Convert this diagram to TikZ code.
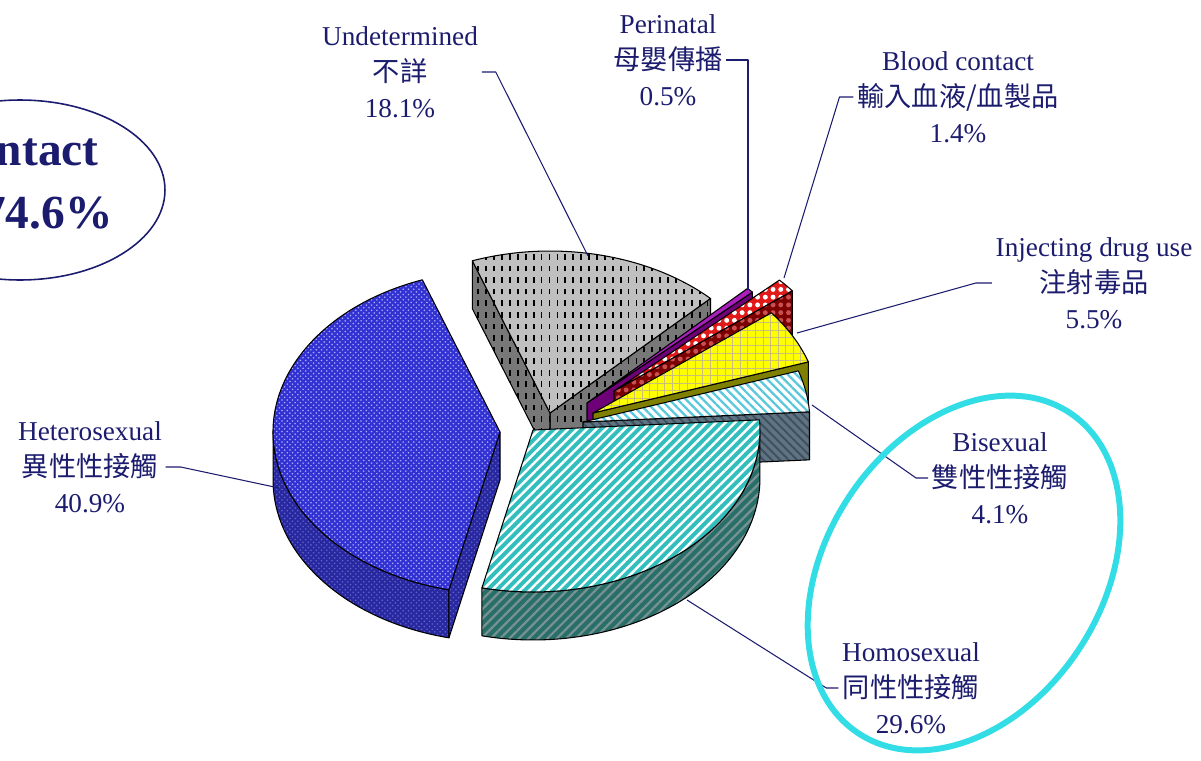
\documentclass[tikz,border=0pt]{standalone}
\usepackage{fontspec}
\setmainfont{Liberation Serif}
\newfontfamily\cjk{Noto Sans CJK TC}
\usetikzlibrary{patterns,patterns.meta}
\definecolor{navy}{RGB}{28,28,110}
\definecolor{ringc}{RGB}{51,221,230}
\definecolor{undetc}{RGB}{192,192,192}
\definecolor{undetsc}{RGB}{120,120,120}
\definecolor{peric}{RGB}{170,30,190}
\definecolor{perisc}{RGB}{110,0,120}
\definecolor{bloodc}{RGB}{225,25,25}
\definecolor{bloodsc}{RGB}{125,0,0}
\definecolor{blooddot}{RGB}{200,80,80}
\definecolor{iduc}{RGB}{255,255,0}
\definecolor{idugrid}{RGB}{200,190,120}
\definecolor{idusc}{RGB}{128,128,0}
\definecolor{bic}{RGB}{90,200,220}
\definecolor{bisc}{RGB}{95,115,130}
\definecolor{bistripe}{RGB}{60,80,95}
\definecolor{homoc}{RGB}{51,190,190}
\definecolor{homosc}{RGB}{40,110,105}
\definecolor{homostripe}{RGB}{120,145,145}
\definecolor{heteroc}{RGB}{50,50,210}
\definecolor{heterodot}{RGB}{170,170,255}
\definecolor{heterosc}{RGB}{40,40,160}
\definecolor{heterosdot}{RGB}{100,100,200}
\pgfdeclarepatternformonly{vdashes}{\pgfqpoint{-1pt}{-1pt}}{\pgfqpoint{5.5pt}{7.6pt}}{\pgfqpoint{4.5pt}{6.6pt}}{%
  \pgfsetlinewidth{1pt}%
  \pgfpathmoveto{\pgfqpoint{2.25pt}{1.6pt}}%
  \pgfpathlineto{\pgfqpoint{2.25pt}{4.8pt}}%
  \pgfusepath{stroke}}
\begin{document}
\begin{tikzpicture}[x=0.02cm, y=0.02cm, line join=round,
  rim/.style={x radius=4.54cm, y radius=3.24cm},
  slice edge/.style={draw=black, line width=0.6pt},
  undet top/.style={slice edge, preaction={fill=undetc}, pattern=vdashes, pattern color=black},
  undet side/.style={slice edge, preaction={fill=undetsc}, pattern=vdashes, pattern color=black},
  peri top/.style={slice edge, fill=peric},
  peri side/.style={slice edge, fill=perisc},
  blood top/.style={slice edge, preaction={fill=bloodc}, pattern={Dots[radius=1.4pt,distance=4.4pt]}, pattern color=white},
  blood side/.style={slice edge, preaction={fill=bloodsc}, pattern={Dots[radius=1.4pt,distance=4.4pt]}, pattern color=blooddot},
  idu top/.style={slice edge, preaction={fill=iduc}, pattern={Hatch[angle=0,distance=4.3pt,line width=0.6pt]}, pattern color=idugrid},
  idu side/.style={slice edge, fill=idusc},
  bi top/.style={slice edge, preaction={fill=white}, pattern={Lines[angle=-45,distance=3.4pt,line width=1.3pt]}, pattern color=bic},
  bi side/.style={slice edge, preaction={fill=bisc}, pattern={Lines[angle=-45,distance=3.4pt,line width=1.1pt]}, pattern color=bistripe},
  homo top/.style={slice edge, preaction={fill=homoc}, pattern={Lines[angle=45,distance=3.8pt,line width=1.4pt]}, pattern color=white},
  homo side/.style={slice edge, preaction={fill=homosc}, pattern={Lines[angle=45,distance=3.8pt,line width=1.3pt]}, pattern color=homostripe},
  hetero top/.style={slice edge, preaction={fill=heteroc}, pattern=crosshatch dots, pattern color=heterodot},
  hetero side/.style={slice edge, preaction={fill=heterosc}, pattern=crosshatch dots, pattern color=heterosdot},
  lbl/.style={text=navy, align=center, inner sep=2pt, font=\fontsize{15.5}{20.5}\selectfont},
  leader/.style={draw=navy, line width=0.6pt}]

\clip (0,0) rectangle (1201,-761);

% exploded pie, back slices first
\begin{scope}[shift={(550,-413)}] % undetermined
  \path[undet side] (0,0) -- (45:4.54cm and 3.24cm) -- ++(0,-48) -- (0,-48) -- cycle;
  \path[undet side] (0,0) -- (110:4.54cm and 3.24cm) -- ++(0,-48) -- (0,-48) -- cycle;
  \path[undet top] (0,0) -- (45:4.54cm and 3.24cm) arc[rim, start angle=45, end angle=110] -- cycle;
\end{scope}
\begin{scope}[shift={(587,-403)}] % perinatal
  \path[peri side] (0,0) -- (43.2:4.54cm and 3.24cm) -- ++(0,-48) -- (0,-48) -- cycle;
  \path[peri top] (0,0) -- (43.2:4.54cm and 3.24cm) arc[rim, start angle=43.2, end angle=45] -- cycle;
\end{scope}
\begin{scope}[shift={(614,-391)}] % blood
  \path[blood side] (0,0) -- (38.2:4.54cm and 3.24cm) -- ++(0,-48) -- (0,-48) -- cycle;
  \path[blood top] (0,0) -- (38.2:4.54cm and 3.24cm) arc[rim, start angle=38.2, end angle=43.2] -- cycle;
\end{scope}
\begin{scope}[shift={(593,-413)}] % injecting
  \path[idu side] (0,0) -- (18.4:4.54cm and 3.24cm) -- ++(0,-48) -- (0,-48) -- cycle;
  \path[idu top] (0,0) -- (18.4:4.54cm and 3.24cm) arc[rim, start angle=18.4, end angle=38.2] -- cycle;
\end{scope}
\begin{scope}[shift={(583,-422)}] % bisexual
  \path[bi side] (0,0) -- (3.6:4.54cm and 3.24cm) -- ++(0,-48) -- (0,-48) -- cycle;
  \path[bi top] (0,0) -- (3.6:4.54cm and 3.24cm) arc[rim, start angle=3.6, end angle=18.4] -- cycle;
\end{scope}
\begin{scope}[shift={(500,-432)}] % heterosexual
  \path[hetero side] (180:4.54cm and 3.24cm) arc[rim, start angle=180, end angle=257] -- ++(0,-48) arc[rim, start angle=257, end angle=180] -- cycle;
  \path[hetero side] (0,0) -- (257:4.54cm and 3.24cm) -- ++(0,-48) -- (0,-48) -- cycle;
  \path[hetero top] (0,0) -- (110:4.54cm and 3.24cm) arc[rim, start angle=110, end angle=257] -- cycle;
\end{scope}
\begin{scope}[shift={(533,-430)}] % homosexual
  \path[homo side] (257:4.54cm and 3.24cm) arc[rim, start angle=257, end angle=360] -- ++(0,-48) arc[rim, start angle=360, end angle=257] -- cycle;
  \path[homo top] (0,0) -- (257:4.54cm and 3.24cm) arc[rim, start angle=257, end angle=363.6] -- cycle;
\end{scope}

\coordinate (undet tip) at (588,-256);
\coordinate (peri tip) at (748,-290);
\coordinate (blood tip) at (784,-278);
\coordinate (idu tip) at (797,-333);
\coordinate (bi tip) at (812,-405);
\coordinate (homo tip) at (687,-600);
\coordinate (hetero tip) at (279,-488);

% labels
\node[lbl] (undet) at (400,-72) {Undetermined\\{\cjk 不詳}\\18.1\%};
\node[lbl] (peri) at (668,-60) {Perinatal\\{\cjk 母嬰傳播}\\0.5\%};
\node[lbl] (blood) at (958,-97) {Blood contact\\{\cjk 輸入血液/血製品}\\1.4\%};
\node[lbl] (idu) at (1094,-283) {Injecting drug use\\{\cjk 注射毒品}\\5.5\%};
\node[lbl] (bi) at (1000,-478) {Bisexual\\{\cjk 雙性性接觸}\\4.1\%};
\node[lbl] (homo) at (911,-688) {Homosexual\\{\cjk 同性性接觸}\\29.6\%};
\node[lbl] (hetero) at (90,-467) {Heterosexual\\{\cjk 異性性接觸}\\40.9\%};

\draw[leader] (undet.east) -- ++(14,0) -- (undet tip);
\draw[leader] (peri.east) -| (peri tip);
\draw[leader] (blood.west) -- ++(-14,0) -- (blood tip);
\draw[leader] (idu.west) -- ++(-16,0) -- (idu tip);
\draw[leader] (bi.west) -- ++(-12,0) -- (bi tip);
\draw[leader] (homo.west) -- ++(-12,0) -- (homo tip);
\draw[leader] (hetero.east) -- ++(15,0) -- (hetero tip);

% rings
\draw[navy, line width=0.9pt] (20,-190) ellipse[x radius=2.9cm, y radius=1.8cm];
\node[text=navy, anchor=base east, inner sep=0pt, font=\fontsize{27}{32}\selectfont\bfseries] (contact) at (99,-165) {ntact};
\node[text=navy, anchor=base east, inner sep=0pt, font=\fontsize{27}{32}\selectfont\bfseries] (total) at (113,-228) {74.6\%};
\draw[ringc, line width=3.4pt, rotate around={56.6:(964,-573)}] (964,-573) ellipse[x radius=3.84cm, y radius=2.76cm];
\end{tikzpicture}
\end{document}
